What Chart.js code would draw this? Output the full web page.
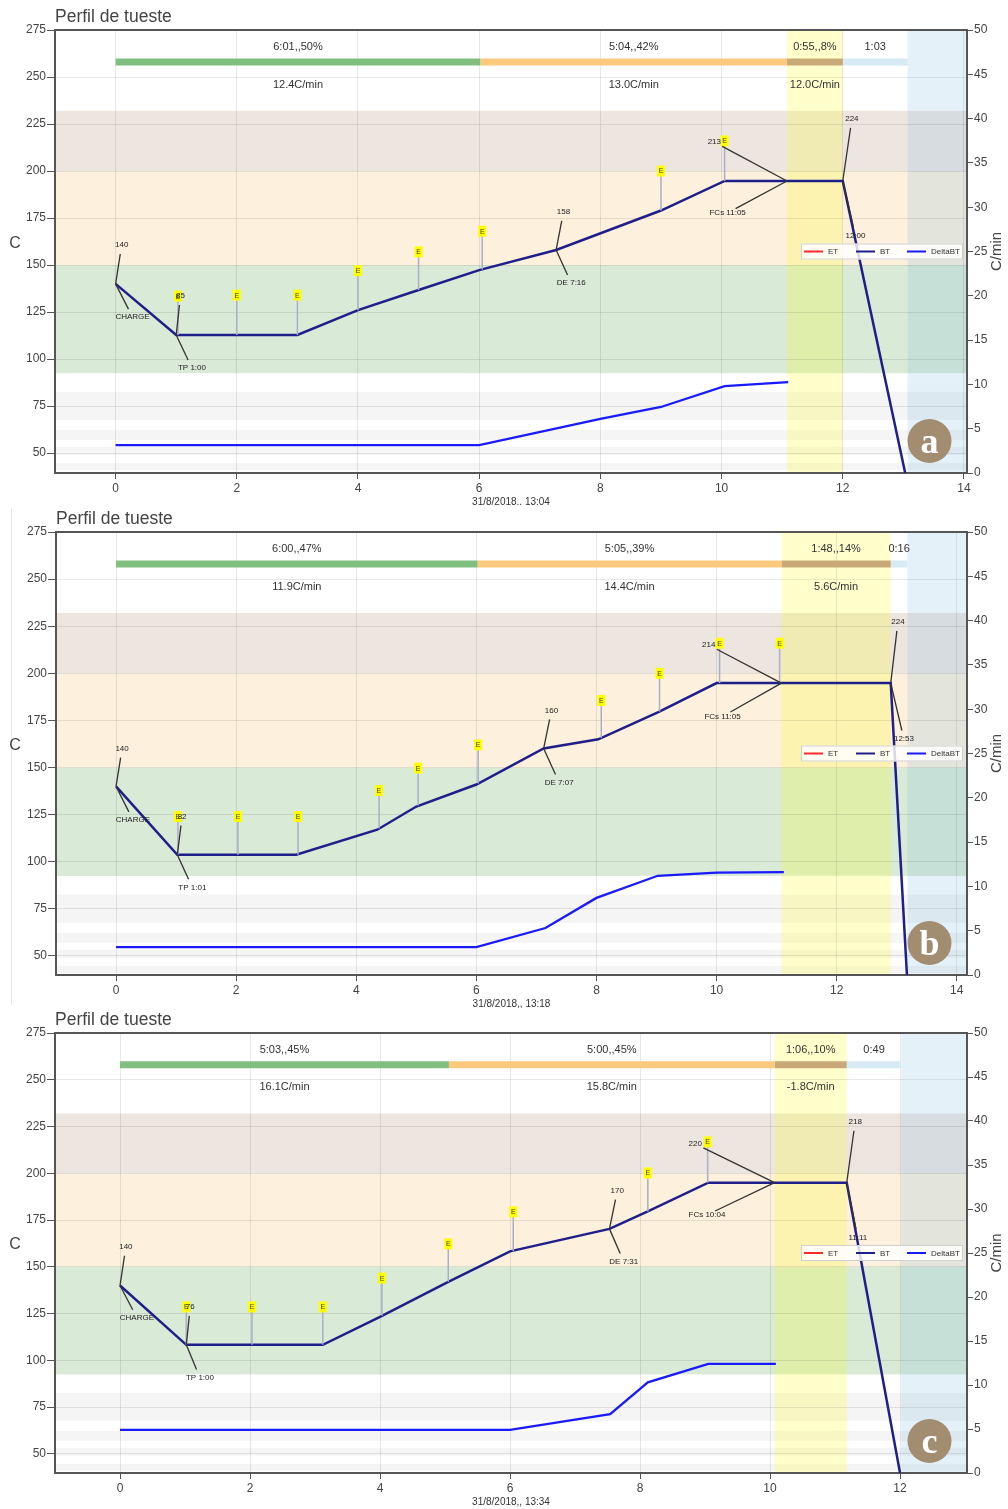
<!DOCTYPE html>
<html>
<head>
<meta charset="utf-8">
<script src="https://cdn.jsdelivr.net/npm/chart.js@4.4.1/dist/chart.umd.min.js"></script>
<style>
body { margin:0; background:#fff; width:1008px; height:1509px; position:relative; overflow:hidden; }
canvas { position:absolute; left:0; }
.borde { position:absolute; left:11px; top:508px; width:1px; height:497px; background:#e6e6e6; }
</style>
</head>
<body>
<div class="borde"></div>
<script>
// bandas comunes (C, eje izquierdo)
const bandaY = [92.5, 150, 200, 232]
const franjas = [[67.6, 82.6], [57, 62.3], [49, 53.3], [41, 44.7]]
const ticksX = [0, 2, 4, 6, 8, 10, 12, 14]

// ---- perfil a ----
const btTiempoA = [0, 1.0, 3.0, 4.0, 5.0, 6.0, 7.27, 9.0, 10.05, 11.08, 12.0, 13.03]
const btA = [140, 112.8, 112.8, 126, 136.7, 147.3, 158, 179, 194.7, 194.7, 194.7, 39.4]
const dTiempoA = [0, 6.0, 8.0, 9.0, 10.05, 11.1]
const deltaA = [3.15, 3.15, 6.1, 7.45, 9.8, 10.25]
const faseA = [0, 6.02, 11.08, 12.0, 13.07]
const faseTxtA = ['6:01,,50%', '5:04,,42%', '0:55,,8%', '1:03']
const rorA = ['12.4C/min', '13.0C/min', '12.0C/min']
const eTiempoA = [1.03, 2.0, 3.0, 4.0, 5.0, 6.05, 9.0, 10.05]
const eBaseA = [112.8, 112.8, 112.8, 126, 136.7, 147.6, 179, 194.7]
const eTopA = [133.5, 134, 134, 147, 157, 168, 200, 216]
const notaA = ['140', 'CHARGE', '85', 'TP 1:00', '158', 'DE 7:16', '213', 'FCs 11:05', '224', '12:00']
const notaXA = [0.1, 0.28, 1.07, 1.26, 7.39, 7.52, 9.88, 10.1, 12.15, 12.21]
const notaYA = [160.6, 122.3, 133.5, 95.2, 178.2, 140.4, 215.4, 177.7, 227.7, 165.4]
const anclaXA = [0, 0, 1.0, 1.0, 7.27, 7.27, 11.08, 11.08, 12.0, 12.0]
const anclaYA = [140, 140, 112.8, 112.8, 158, 158, 194.7, 194.7, 194.7, 194.7]

// ---- perfil b ----
const btTiempoB = [0, 1.02, 3.0, 4.35, 5.0, 6.0, 7.12, 8.03, 9.03, 10.0, 11.08, 12.9, 13.17]
const btB = [140, 103.7, 103.7, 117, 129.3, 141, 160.1, 165, 179.4, 194.8, 194.8, 194.8, 39.9]
const dTiempoB = [0, 6.0, 7.15, 8.0, 9.02, 10.0, 11.12]
const deltaB = [3.15, 3.15, 5.3, 8.7, 11.2, 11.55, 11.6]
const faseB = [0, 6.02, 11.08, 12.9, 13.18]
const faseTxtB = ['6:00,,47%', '5:05,,39%', '1:48,,14%', '0:16']
const rorB = ['11.9C/min', '14.4C/min', '5.6C/min']
const eTiempoB = [1.03, 2.03, 3.03, 4.38, 5.03, 6.03, 8.08, 9.05, 10.05, 11.05]
const eBaseB = [103.7, 103.7, 103.7, 117.6, 129.9, 141.5, 165.7, 179.7, 194.8, 194.8]
const eTopB = [124, 124, 124, 137.8, 149.7, 162, 185.6, 200, 216, 216]
const notaB = ['140', 'CHARGE', '82', 'TP 1:01', '160', 'DE 7:07', '214', 'FCs 11:05', '224', '12:53']
const notaXB = [0.1, 0.28, 1.1, 1.27, 7.25, 7.38, 9.87, 10.1, 13.02, 13.12]
const notaYB = [160, 122.2, 124, 86.4, 180.3, 142, 215, 177.1, 227.3, 165]
const anclaXB = [0, 0, 1.02, 1.02, 7.12, 7.12, 11.08, 11.08, 12.9, 12.9]
const anclaYB = [140, 140, 103.7, 103.7, 160.1, 160.1, 194.8, 194.8, 194.8, 194.8]

// ---- perfil c ----
const btTiempoC = [0, 1.02, 3.12, 4.0, 5.05, 6.0, 7.53, 8.12, 9.05, 10.07, 11.18, 12.0]
const btC = [140, 108.3, 108.3, 123.3, 142, 158.3, 170.3, 179.6, 195, 195, 195, 39.8]
const dTiempoC = [0, 6.0, 7.54, 8.12, 9.05, 10.09]
const deltaC = [4.9, 4.9, 6.7, 10.3, 12.4, 12.4]
const faseC = [0, 5.06, 10.07, 11.18, 12.02]
const faseTxtC = ['5:03,,45%', '5:00,,45%', '1:06,,10%', '0:49']
const rorC = ['16.1C/min', '15.8C/min', '-1.8C/min']
const eTiempoC = [1.02, 2.03, 3.12, 4.03, 5.05, 6.05, 8.12, 9.04]
const eBaseC = [108.3, 108.3, 108.3, 123.8, 142, 158.3, 179.6, 195]
const eTopC = [128.6, 128.6, 128.6, 144, 162.3, 179.4, 200.2, 216.8]
const notaC = ['140', 'CHARGE', '76', 'TP 1:00', '170', 'DE 7:31', '220', 'FCs 10:04', '218', '11:11']
const notaXC = [0.09, 0.26, 1.08, 1.23, 7.65, 7.75, 8.85, 9.03, 11.31, 11.35]
const notaYC = [160.7, 122.8, 128.6, 90.7, 190.6, 152.7, 215.7, 177.8, 227.5, 165.5]
const anclaXC = [0, 0, 1.02, 1.02, 7.53, 7.53, 10.07, 10.07, 11.18, 11.18]
const anclaYC = [140, 140, 108.3, 108.3, 170.3, 170.3, 195, 195, 195, 195]

Chart.defaults.font.family = "'Liberation Sans', Arial, sans-serif"
const FUENTE = "'Liberation Sans', Arial, sans-serif"

const panel = p => {
	const c = document.createElement('canvas')
	c.width = 1008; c.height = p.alto; c.style.top = p.top + 'px'
	document.body.appendChild(c)

	const pts = (xs, ys) => xs.map((x, i) => ({ x, y: ys[i] }))
	const f = p.fase

	const linea = (ctx, x0, y0, x1, y1) => { ctx.beginPath(); ctx.moveTo(x0, y0); ctx.lineTo(x1, y1); ctx.stroke() }

	const deco = {
		id: 'deco',
		beforeDraw: ch => {
			const { ctx, chartArea: a, scales: { x, y } } = ch
			const X = v => x.getPixelForValue(v), Y = v => y.getPixelForValue(v)
			ctx.save()
			ctx.beginPath(); ctx.rect(a.left, a.top, a.width, a.height); ctx.clip()
			const hb = (lo, hi, col) => { ctx.fillStyle = col; ctx.fillRect(a.left, Y(hi), a.width, Y(lo) - Y(hi)) }
			franjas.forEach(([lo, hi]) => hb(lo, hi, '#f5f5f5'))
			hb(bandaY[0], bandaY[1], '#d9ead6')
			hb(bandaY[1], bandaY[2], '#fdf0dc')
			hb(bandaY[2], bandaY[3], '#ede6e0')
			const vb = (x0, x1, col) => { ctx.fillStyle = col; ctx.fillRect(X(x0), a.top, X(x1) - X(x0), a.height) }
			vb(f[2], f[3], 'rgba(255,255,0,0.2)')
			vb(f[4], p.xMax, 'rgba(110,180,220,0.18)')
			ctx.restore()
		},
		afterDatasetsDraw: ch => {
			const { ctx, chartArea: a, scales: { x, y } } = ch
			const X = v => x.getPixelForValue(v), Y = v => y.getPixelForValue(v)
			ctx.save()
			ctx.textAlign = 'center'; ctx.textBaseline = 'middle'

			// textos de fases
			ctx.fillStyle = '#333'; ctx.font = '11px ' + FUENTE
			p.faseTxt.forEach((t, i) => ctx.fillText(t, X((f[i] + f[i + 1]) / 2), Y(266)))
			p.ror.forEach((t, i) => ctx.fillText(t, X((f[i] + f[i + 1]) / 2), Y(246)))

			// eventos E
			p.eT.forEach((t, i) => {
				const px = X(t), top = Y(p.eTop[i])
				ctx.strokeStyle = '#a9afc6'; ctx.lineWidth = 1.5
				linea(ctx, px, Y(p.eBase[i]), px, top + 5)
				ctx.fillStyle = '#ffff00'; ctx.fillRect(px - 4, top - 5.5, 8, 11)
				ctx.fillStyle = '#444'; ctx.font = '7px ' + FUENTE
				ctx.fillText('E', px, top + 0.5)
			})

			// anotaciones
			ctx.font = '8px ' + FUENTE
			p.nota.forEach((t, i) => {
				const ax = X(p.aX[i]), ay = Y(p.aY[i]), tx = X(p.nX[i]), ty = Y(p.nY[i])
				const d = Math.hypot(ax - tx, ay - ty)
				ctx.strokeStyle = '#333'; ctx.lineWidth = 1.3
				linea(ctx, ax, ay, tx + (ax - tx) / d * 9, ty + (ay - ty) / d * 9)
				ctx.fillStyle = '#222'; ctx.fillText(t, tx, ty)
			})

			// leyenda
			const lx = a.right - 166, ly = (a.top + a.bottom) / 2
			ctx.fillStyle = 'rgba(255,255,255,0.82)'; ctx.fillRect(lx, ly - 8, 162, 16)
			ctx.strokeStyle = '#d0d0d0'; ctx.lineWidth = 1; ctx.strokeRect(lx + 0.5, ly - 7.5, 161, 15)
			ctx.textAlign = 'left'; ctx.font = '8px ' + FUENTE
			;[['#ff2a2a', 'ET', 3], ['#1f1f8c', 'BT', 55], ['#1a1aff', 'DeltaBT', 106]].forEach(([col, t, o]) => {
				ctx.strokeStyle = col; ctx.lineWidth = 2
				linea(ctx, lx + o, ly, lx + o + 19, ly)
				ctx.fillStyle = '#333'; ctx.fillText(t, lx + o + 24, ly + 0.5)
			})

			// insignia
			const bx = a.right - 37.5, by = a.bottom - 32
			ctx.fillStyle = '#a28d71'
			ctx.beginPath(); ctx.arc(bx, by, 22, 0, Math.PI * 2); ctx.fill()
			ctx.fillStyle = '#fff'; ctx.textAlign = 'center'; ctx.textBaseline = 'alphabetic'
			ctx.font = "bold 36px 'Liberation Serif', 'DejaVu Serif', serif"
			ctx.fillText(p.letra, bx, by + 12)
			ctx.restore()
		},
		afterDraw: ch => {
			const { ctx, chartArea: a } = ch
			ctx.save()
			ctx.strokeStyle = '#555'; ctx.lineWidth = 2
			linea(ctx, a.left, a.top, a.right, a.top)
			ctx.fillStyle = '#444'; ctx.textBaseline = 'middle'; ctx.textAlign = 'left'
			ctx.font = '17.5px ' + FUENTE
			ctx.fillText('Perfil de tueste', a.left, a.top - 13)
			ctx.font = '16px ' + FUENTE; ctx.textAlign = 'center'
			ctx.fillText('C', 15, (a.top + a.bottom) / 2 - 8)
			ctx.fillStyle = '#333'; ctx.font = '10px ' + FUENTE
			ctx.fillText(p.fecha, (a.left + a.right) / 2, a.bottom + 29)
			ctx.translate(997, (a.top + a.bottom) / 2)
			ctx.rotate(-Math.PI / 2)
			ctx.fillStyle = '#444'; ctx.font = '15px ' + FUENTE
			ctx.fillText('C/min', 0, 0)
			ctx.restore()
		}
	}

	const ticks = { color: '#444', font: { size: 12 }, padding: 1 }
	const borde = { color: '#555', width: 2 }

	return new Chart(c, {
		type: 'line',
		data: {
			datasets: [
				...['#80bf80', '#fdc97c', '#c9a978', '#d6ebf3'].map((col, i) => ({
					data: [{ x: f[i], y: 258 }, { x: f[i + 1], y: 258 }],
					borderColor: col, borderWidth: 7, borderCapStyle: 'butt', pointRadius: 0, yAxisID: 'y',
				})),
				{ label: 'DeltaBT', data: pts(p.dT, p.dV), borderColor: '#1a1aff', borderWidth: 2.3, pointRadius: 0, yAxisID: 'y2' },
				{ label: 'BT', data: pts(p.btT, p.btV), borderColor: '#1f1f8c', borderWidth: 2.5, pointRadius: 0, yAxisID: 'y' },
			]
		},
		options: {
			responsive: false, animation: false, devicePixelRatio: 1,
			layout: { padding: { top: p.pad, left: 0, right: 0, bottom: 0 } },
			plugins: { legend: { display: false }, tooltip: { enabled: false } },
			scales: {
				x: {
					type: 'linear', min: -1, max: p.xMax,
					ticks: { ...ticks, stepSize: 2, maxRotation: 0, padding: 2, autoSkip: false },
					afterBuildTicks: s => { s.ticks = ticksX.filter(v => v <= p.xMax).map(v => ({ value: v })) },
					afterFit: s => { s.height = p.xH },
					grid: { color: 'rgba(0,0,0,0.09)', tickColor: '#555', tickLength: 6 },
					border: borde,
				},
				y: {
					position: 'left', min: p.yMin, max: 275,
					ticks: { ...ticks, stepSize: 25 },
					afterBuildTicks: s => { s.ticks = s.ticks.filter(t => t.value >= 50 && t.value % 25 === 0) },
					afterFit: s => { s.width = p.yW },
					grid: { color: 'rgba(0,0,0,0.09)', tickColor: '#555', tickLength: 8 },
					border: borde,
				},
				y2: {
					position: 'right', min: 0, max: 50,
					ticks: { ...ticks, stepSize: 5 },
					afterFit: s => { s.width = 41 },
					grid: { drawOnChartArea: false, tickColor: '#555', tickLength: 6 },
					border: borde,
				},
			}
		},
		plugins: [deco]
	})
}

panel({ top: 0, alto: 505, pad: 30, xH: 32, yW: 55, xMax: 14.05, yMin: 39.4, letra: 'a', fecha: '31/8/2018,, 13:04',
	btT: btTiempoA, btV: btA, dT: dTiempoA, dV: deltaA, fase: faseA, faseTxt: faseTxtA, ror: rorA,
	eT: eTiempoA, eBase: eBaseA, eTop: eTopA, nota: notaA, nX: notaXA, nY: notaYA, aX: anclaXA, aY: anclaYA })

panel({ top: 505, alto: 503, pad: 27, xH: 33, yW: 56, xMax: 14.17, yMin: 39.9, letra: 'b', fecha: '31/8/2018,, 13:18',
	btT: btTiempoB, btV: btB, dT: dTiempoB, dV: deltaB, fase: faseB, faseTxt: faseTxtB, ror: rorB,
	eT: eTiempoB, eBase: eBaseB, eTop: eTopB, nota: notaB, nX: notaXB, nY: notaYB, aX: anclaXB, aY: anclaYB })

panel({ top: 1008, alto: 501, pad: 25, xH: 36, yW: 55, xMax: 13.03, yMin: 39.8, letra: 'c', fecha: '31/8/2018,, 13:34',
	btT: btTiempoC, btV: btC, dT: dTiempoC, dV: deltaC, fase: faseC, faseTxt: faseTxtC, ror: rorC,
	eT: eTiempoC, eBase: eBaseC, eTop: eTopC, nota: notaC, nX: notaXC, nY: notaYC, aX: anclaXC, aY: anclaYC })
</script>
</body>
</html>
